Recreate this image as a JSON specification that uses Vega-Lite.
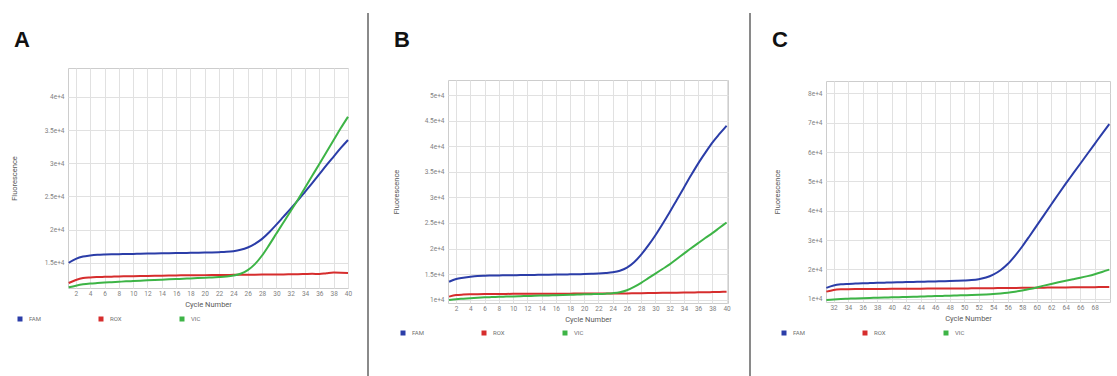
{
"$schema": "https://vega.github.io/schema/vega-lite/v6.json",
"background": "white",
"padding": {"left": 9, "top": 10, "right": 2, "bottom": 0},
"datasets": {
"A": [
{"cycle":1,"dye":"FAM","value":15000},{"cycle":2,"dye":"FAM","value":15600},{"cycle":3,"dye":"FAM","value":15950},{"cycle":4,"dye":"FAM","value":16100},{"cycle":5,"dye":"FAM","value":16200},{"cycle":6,"dye":"FAM","value":16250},{"cycle":7,"dye":"FAM","value":16280},{"cycle":8,"dye":"FAM","value":16300},{"cycle":9,"dye":"FAM","value":16320},{"cycle":10,"dye":"FAM","value":16340},{"cycle":11,"dye":"FAM","value":16360},{"cycle":12,"dye":"FAM","value":16380},{"cycle":13,"dye":"FAM","value":16400},{"cycle":14,"dye":"FAM","value":16420},{"cycle":15,"dye":"FAM","value":16440},{"cycle":16,"dye":"FAM","value":16460},{"cycle":17,"dye":"FAM","value":16480},{"cycle":18,"dye":"FAM","value":16500},{"cycle":19,"dye":"FAM","value":16520},{"cycle":20,"dye":"FAM","value":16540},{"cycle":21,"dye":"FAM","value":16560},{"cycle":22,"dye":"FAM","value":16600},{"cycle":23,"dye":"FAM","value":16650},{"cycle":24,"dye":"FAM","value":16750},{"cycle":25,"dye":"FAM","value":16950},{"cycle":26,"dye":"FAM","value":17300},{"cycle":27,"dye":"FAM","value":17850},{"cycle":28,"dye":"FAM","value":18600},{"cycle":29,"dye":"FAM","value":19600},{"cycle":30,"dye":"FAM","value":20750},{"cycle":31,"dye":"FAM","value":21950},{"cycle":32,"dye":"FAM","value":23150},{"cycle":33,"dye":"FAM","value":24400},{"cycle":34,"dye":"FAM","value":25700},{"cycle":35,"dye":"FAM","value":27000},{"cycle":36,"dye":"FAM","value":28350},{"cycle":37,"dye":"FAM","value":29700},{"cycle":38,"dye":"FAM","value":31000},{"cycle":39,"dye":"FAM","value":32300},{"cycle":40,"dye":"FAM","value":33500},
{"cycle":1,"dye":"ROX","value":11950},{"cycle":2,"dye":"ROX","value":12400},{"cycle":3,"dye":"ROX","value":12700},{"cycle":4,"dye":"ROX","value":12800},{"cycle":5,"dye":"ROX","value":12850},{"cycle":6,"dye":"ROX","value":12880},{"cycle":7,"dye":"ROX","value":12910},{"cycle":8,"dye":"ROX","value":12940},{"cycle":9,"dye":"ROX","value":12960},{"cycle":10,"dye":"ROX","value":12980},{"cycle":11,"dye":"ROX","value":13000},{"cycle":12,"dye":"ROX","value":13020},{"cycle":13,"dye":"ROX","value":13040},{"cycle":14,"dye":"ROX","value":13060},{"cycle":15,"dye":"ROX","value":13080},{"cycle":16,"dye":"ROX","value":13100},{"cycle":17,"dye":"ROX","value":13110},{"cycle":18,"dye":"ROX","value":13120},{"cycle":19,"dye":"ROX","value":13130},{"cycle":20,"dye":"ROX","value":13140},{"cycle":21,"dye":"ROX","value":13150},{"cycle":22,"dye":"ROX","value":13160},{"cycle":23,"dye":"ROX","value":13170},{"cycle":24,"dye":"ROX","value":13180},{"cycle":25,"dye":"ROX","value":13190},{"cycle":26,"dye":"ROX","value":13200},{"cycle":27,"dye":"ROX","value":13210},{"cycle":28,"dye":"ROX","value":13220},{"cycle":29,"dye":"ROX","value":13230},{"cycle":30,"dye":"ROX","value":13240},{"cycle":31,"dye":"ROX","value":13250},{"cycle":32,"dye":"ROX","value":13270},{"cycle":33,"dye":"ROX","value":13290},{"cycle":34,"dye":"ROX","value":13310},{"cycle":35,"dye":"ROX","value":13330},{"cycle":36,"dye":"ROX","value":13300},{"cycle":37,"dye":"ROX","value":13420},{"cycle":38,"dye":"ROX","value":13520},{"cycle":39,"dye":"ROX","value":13500},{"cycle":40,"dye":"ROX","value":13450},
{"cycle":1,"dye":"VIC","value":11300},{"cycle":2,"dye":"VIC","value":11550},{"cycle":3,"dye":"VIC","value":11750},{"cycle":4,"dye":"VIC","value":11870},{"cycle":5,"dye":"VIC","value":11950},{"cycle":6,"dye":"VIC","value":12020},{"cycle":7,"dye":"VIC","value":12080},{"cycle":8,"dye":"VIC","value":12140},{"cycle":9,"dye":"VIC","value":12200},{"cycle":10,"dye":"VIC","value":12250},{"cycle":11,"dye":"VIC","value":12300},{"cycle":12,"dye":"VIC","value":12350},{"cycle":13,"dye":"VIC","value":12400},{"cycle":14,"dye":"VIC","value":12450},{"cycle":15,"dye":"VIC","value":12500},{"cycle":16,"dye":"VIC","value":12550},{"cycle":17,"dye":"VIC","value":12600},{"cycle":18,"dye":"VIC","value":12650},{"cycle":19,"dye":"VIC","value":12700},{"cycle":20,"dye":"VIC","value":12750},{"cycle":21,"dye":"VIC","value":12800},{"cycle":22,"dye":"VIC","value":12860},{"cycle":23,"dye":"VIC","value":12940},{"cycle":24,"dye":"VIC","value":13080},{"cycle":25,"dye":"VIC","value":13350},{"cycle":26,"dye":"VIC","value":13900},{"cycle":27,"dye":"VIC","value":14800},{"cycle":28,"dye":"VIC","value":16100},{"cycle":29,"dye":"VIC","value":17700},{"cycle":30,"dye":"VIC","value":19400},{"cycle":31,"dye":"VIC","value":21100},{"cycle":32,"dye":"VIC","value":22800},{"cycle":33,"dye":"VIC","value":24500},{"cycle":34,"dye":"VIC","value":26300},{"cycle":35,"dye":"VIC","value":28100},{"cycle":36,"dye":"VIC","value":29900},{"cycle":37,"dye":"VIC","value":31700},{"cycle":38,"dye":"VIC","value":33500},{"cycle":39,"dye":"VIC","value":35300},{"cycle":40,"dye":"VIC","value":37000}
],
"B": [
{"cycle":1,"dye":"FAM","value":13500},{"cycle":2,"dye":"FAM","value":14050},{"cycle":3,"dye":"FAM","value":14300},{"cycle":4,"dye":"FAM","value":14500},{"cycle":5,"dye":"FAM","value":14650},{"cycle":6,"dye":"FAM","value":14700},{"cycle":7,"dye":"FAM","value":14720},{"cycle":8,"dye":"FAM","value":14740},{"cycle":9,"dye":"FAM","value":14760},{"cycle":10,"dye":"FAM","value":14780},{"cycle":11,"dye":"FAM","value":14800},{"cycle":12,"dye":"FAM","value":14820},{"cycle":13,"dye":"FAM","value":14840},{"cycle":14,"dye":"FAM","value":14860},{"cycle":15,"dye":"FAM","value":14880},{"cycle":16,"dye":"FAM","value":14900},{"cycle":17,"dye":"FAM","value":14920},{"cycle":18,"dye":"FAM","value":14950},{"cycle":19,"dye":"FAM","value":14980},{"cycle":20,"dye":"FAM","value":15010},{"cycle":21,"dye":"FAM","value":15050},{"cycle":22,"dye":"FAM","value":15100},{"cycle":23,"dye":"FAM","value":15200},{"cycle":24,"dye":"FAM","value":15350},{"cycle":25,"dye":"FAM","value":15650},{"cycle":26,"dye":"FAM","value":16250},{"cycle":27,"dye":"FAM","value":17300},{"cycle":28,"dye":"FAM","value":18800},{"cycle":29,"dye":"FAM","value":20600},{"cycle":30,"dye":"FAM","value":22600},{"cycle":31,"dye":"FAM","value":24800},{"cycle":32,"dye":"FAM","value":27100},{"cycle":33,"dye":"FAM","value":29500},{"cycle":34,"dye":"FAM","value":31900},{"cycle":35,"dye":"FAM","value":34300},{"cycle":36,"dye":"FAM","value":36600},{"cycle":37,"dye":"FAM","value":38700},{"cycle":38,"dye":"FAM","value":40700},{"cycle":39,"dye":"FAM","value":42400},{"cycle":40,"dye":"FAM","value":44000},
{"cycle":1,"dye":"ROX","value":10600},{"cycle":2,"dye":"ROX","value":10900},{"cycle":3,"dye":"ROX","value":11000},{"cycle":4,"dye":"ROX","value":11050},{"cycle":5,"dye":"ROX","value":11080},{"cycle":6,"dye":"ROX","value":11100},{"cycle":7,"dye":"ROX","value":11110},{"cycle":8,"dye":"ROX","value":11120},{"cycle":9,"dye":"ROX","value":11130},{"cycle":10,"dye":"ROX","value":11140},{"cycle":11,"dye":"ROX","value":11150},{"cycle":12,"dye":"ROX","value":11150},{"cycle":13,"dye":"ROX","value":11160},{"cycle":14,"dye":"ROX","value":11160},{"cycle":15,"dye":"ROX","value":11170},{"cycle":16,"dye":"ROX","value":11170},{"cycle":17,"dye":"ROX","value":11180},{"cycle":18,"dye":"ROX","value":11180},{"cycle":19,"dye":"ROX","value":11190},{"cycle":20,"dye":"ROX","value":11190},{"cycle":21,"dye":"ROX","value":11200},{"cycle":22,"dye":"ROX","value":11200},{"cycle":23,"dye":"ROX","value":11210},{"cycle":24,"dye":"ROX","value":11210},{"cycle":25,"dye":"ROX","value":11220},{"cycle":26,"dye":"ROX","value":11230},{"cycle":27,"dye":"ROX","value":11250},{"cycle":28,"dye":"ROX","value":11270},{"cycle":29,"dye":"ROX","value":11290},{"cycle":30,"dye":"ROX","value":11310},{"cycle":31,"dye":"ROX","value":11330},{"cycle":32,"dye":"ROX","value":11350},{"cycle":33,"dye":"ROX","value":11370},{"cycle":34,"dye":"ROX","value":11390},{"cycle":35,"dye":"ROX","value":11410},{"cycle":36,"dye":"ROX","value":11430},{"cycle":37,"dye":"ROX","value":11450},{"cycle":38,"dye":"ROX","value":11480},{"cycle":39,"dye":"ROX","value":11510},{"cycle":40,"dye":"ROX","value":11540},
{"cycle":1,"dye":"VIC","value":9950},{"cycle":2,"dye":"VIC","value":10100},{"cycle":3,"dye":"VIC","value":10200},{"cycle":4,"dye":"VIC","value":10300},{"cycle":5,"dye":"VIC","value":10380},{"cycle":6,"dye":"VIC","value":10450},{"cycle":7,"dye":"VIC","value":10500},{"cycle":8,"dye":"VIC","value":10550},{"cycle":9,"dye":"VIC","value":10600},{"cycle":10,"dye":"VIC","value":10640},{"cycle":11,"dye":"VIC","value":10680},{"cycle":12,"dye":"VIC","value":10720},{"cycle":13,"dye":"VIC","value":10760},{"cycle":14,"dye":"VIC","value":10800},{"cycle":15,"dye":"VIC","value":10840},{"cycle":16,"dye":"VIC","value":10880},{"cycle":17,"dye":"VIC","value":10920},{"cycle":18,"dye":"VIC","value":10960},{"cycle":19,"dye":"VIC","value":11000},{"cycle":20,"dye":"VIC","value":11040},{"cycle":21,"dye":"VIC","value":11080},{"cycle":22,"dye":"VIC","value":11120},{"cycle":23,"dye":"VIC","value":11180},{"cycle":24,"dye":"VIC","value":11270},{"cycle":25,"dye":"VIC","value":11450},{"cycle":26,"dye":"VIC","value":11850},{"cycle":27,"dye":"VIC","value":12500},{"cycle":28,"dye":"VIC","value":13300},{"cycle":29,"dye":"VIC","value":14200},{"cycle":30,"dye":"VIC","value":15100},{"cycle":31,"dye":"VIC","value":16000},{"cycle":32,"dye":"VIC","value":16900},{"cycle":33,"dye":"VIC","value":17950},{"cycle":34,"dye":"VIC","value":19000},{"cycle":35,"dye":"VIC","value":20050},{"cycle":36,"dye":"VIC","value":21050},{"cycle":37,"dye":"VIC","value":22050},{"cycle":38,"dye":"VIC","value":23000},{"cycle":39,"dye":"VIC","value":24050},{"cycle":40,"dye":"VIC","value":25100}
],
"C": [
{"cycle":31,"dye":"FAM","value":13700},{"cycle":32,"dye":"FAM","value":14500},{"cycle":33,"dye":"FAM","value":14900},{"cycle":34,"dye":"FAM","value":15050},{"cycle":35,"dye":"FAM","value":15150},{"cycle":36,"dye":"FAM","value":15250},{"cycle":37,"dye":"FAM","value":15320},{"cycle":38,"dye":"FAM","value":15400},{"cycle":39,"dye":"FAM","value":15470},{"cycle":40,"dye":"FAM","value":15540},{"cycle":41,"dye":"FAM","value":15600},{"cycle":42,"dye":"FAM","value":15660},{"cycle":43,"dye":"FAM","value":15720},{"cycle":44,"dye":"FAM","value":15780},{"cycle":45,"dye":"FAM","value":15840},{"cycle":46,"dye":"FAM","value":15900},{"cycle":47,"dye":"FAM","value":15960},{"cycle":48,"dye":"FAM","value":16020},{"cycle":49,"dye":"FAM","value":16100},{"cycle":50,"dye":"FAM","value":16200},{"cycle":51,"dye":"FAM","value":16350},{"cycle":52,"dye":"FAM","value":16650},{"cycle":53,"dye":"FAM","value":17200},{"cycle":54,"dye":"FAM","value":18200},{"cycle":55,"dye":"FAM","value":19700},{"cycle":56,"dye":"FAM","value":21800},{"cycle":57,"dye":"FAM","value":24600},{"cycle":58,"dye":"FAM","value":27800},{"cycle":59,"dye":"FAM","value":31300},{"cycle":60,"dye":"FAM","value":34900},{"cycle":61,"dye":"FAM","value":38500},{"cycle":62,"dye":"FAM","value":42100},{"cycle":63,"dye":"FAM","value":45700},{"cycle":64,"dye":"FAM","value":49200},{"cycle":65,"dye":"FAM","value":52600},{"cycle":66,"dye":"FAM","value":56000},{"cycle":67,"dye":"FAM","value":59400},{"cycle":68,"dye":"FAM","value":62800},{"cycle":69,"dye":"FAM","value":66200},{"cycle":70,"dye":"FAM","value":69500},
{"cycle":31,"dye":"ROX","value":12400},{"cycle":32,"dye":"ROX","value":13000},{"cycle":33,"dye":"ROX","value":13200},{"cycle":34,"dye":"ROX","value":13250},{"cycle":35,"dye":"ROX","value":13280},{"cycle":36,"dye":"ROX","value":13300},{"cycle":37,"dye":"ROX","value":13315},{"cycle":38,"dye":"ROX","value":13330},{"cycle":39,"dye":"ROX","value":13345},{"cycle":40,"dye":"ROX","value":13360},{"cycle":41,"dye":"ROX","value":13375},{"cycle":42,"dye":"ROX","value":13390},{"cycle":43,"dye":"ROX","value":13405},{"cycle":44,"dye":"ROX","value":13420},{"cycle":45,"dye":"ROX","value":13435},{"cycle":46,"dye":"ROX","value":13450},{"cycle":47,"dye":"ROX","value":13465},{"cycle":48,"dye":"ROX","value":13480},{"cycle":49,"dye":"ROX","value":13495},{"cycle":50,"dye":"ROX","value":13510},{"cycle":51,"dye":"ROX","value":13525},{"cycle":52,"dye":"ROX","value":13540},{"cycle":53,"dye":"ROX","value":13565},{"cycle":54,"dye":"ROX","value":13590},{"cycle":55,"dye":"ROX","value":13615},{"cycle":56,"dye":"ROX","value":13640},{"cycle":57,"dye":"ROX","value":13665},{"cycle":58,"dye":"ROX","value":13690},{"cycle":59,"dye":"ROX","value":13715},{"cycle":60,"dye":"ROX","value":13740},{"cycle":61,"dye":"ROX","value":13765},{"cycle":62,"dye":"ROX","value":13790},{"cycle":63,"dye":"ROX","value":13815},{"cycle":64,"dye":"ROX","value":13840},{"cycle":65,"dye":"ROX","value":13865},{"cycle":66,"dye":"ROX","value":13890},{"cycle":67,"dye":"ROX","value":13915},{"cycle":68,"dye":"ROX","value":13940},{"cycle":69,"dye":"ROX","value":13970},{"cycle":70,"dye":"ROX","value":14000},
{"cycle":31,"dye":"VIC","value":9550},{"cycle":32,"dye":"VIC","value":9750},{"cycle":33,"dye":"VIC","value":9900},{"cycle":34,"dye":"VIC","value":10000},{"cycle":35,"dye":"VIC","value":10100},{"cycle":36,"dye":"VIC","value":10180},{"cycle":37,"dye":"VIC","value":10250},{"cycle":38,"dye":"VIC","value":10320},{"cycle":39,"dye":"VIC","value":10390},{"cycle":40,"dye":"VIC","value":10460},{"cycle":41,"dye":"VIC","value":10530},{"cycle":42,"dye":"VIC","value":10600},{"cycle":43,"dye":"VIC","value":10670},{"cycle":44,"dye":"VIC","value":10740},{"cycle":45,"dye":"VIC","value":10810},{"cycle":46,"dye":"VIC","value":10880},{"cycle":47,"dye":"VIC","value":10950},{"cycle":48,"dye":"VIC","value":11020},{"cycle":49,"dye":"VIC","value":11100},{"cycle":50,"dye":"VIC","value":11180},{"cycle":51,"dye":"VIC","value":11260},{"cycle":52,"dye":"VIC","value":11350},{"cycle":53,"dye":"VIC","value":11460},{"cycle":54,"dye":"VIC","value":11600},{"cycle":55,"dye":"VIC","value":11800},{"cycle":56,"dye":"VIC","value":12050},{"cycle":57,"dye":"VIC","value":12400},{"cycle":58,"dye":"VIC","value":12820},{"cycle":59,"dye":"VIC","value":13300},{"cycle":60,"dye":"VIC","value":13850},{"cycle":61,"dye":"VIC","value":14450},{"cycle":62,"dye":"VIC","value":15030},{"cycle":63,"dye":"VIC","value":15580},{"cycle":64,"dye":"VIC","value":16100},{"cycle":65,"dye":"VIC","value":16600},{"cycle":66,"dye":"VIC","value":17120},{"cycle":67,"dye":"VIC","value":17700},{"cycle":68,"dye":"VIC","value":18350},{"cycle":69,"dye":"VIC","value":19100},{"cycle":70,"dye":"VIC","value":19900}
]
},
"columns": 3,
"spacing": {"row": 0, "column": -4},
"align": {"row": "none", "column": "each"},
"bounds": "full",
"resolve": {"scale": {"x": "independent", "y": "independent", "color": "independent"}, "legend": {"color": "independent"}},
"concat": [
{"width": 1, "height": 1, "data": {"values": []}, "mark": "point", "encoding": {}, "view": {"stroke": null}},
{"width": 1, "height": 1, "data": {"values": []}, "mark": "point", "encoding": {}, "view": {"stroke": null}},
{"width": 1, "height": 1, "data": {"values": []}, "mark": "point", "encoding": {}, "view": {"stroke": null}},
{
"width": 280, "height": 220,
"title": {"text": "A", "anchor": "start", "frame": "group", "dx": -54, "offset": -57, "baseline": "alphabetic", "fontSize": 22, "fontWeight": "bold", "font": "Liberation Sans", "color": "#111111"},
"layer": [
{"data": {"name": "A"}, "mark": {"type": "line", "strokeWidth": 2, "interpolate": "monotone"},
"encoding": {
"x": {"field": "cycle", "type": "quantitative", "scale": {"domain": [0.9, 40], "nice": false, "zero": false}, "axis": {"title": "Cycle Number", "tickCount": 100, "format": "d", "values": [2,4,6,8,10,12,14,16,18,20,22,24,26,28,30,32,34,36,38,40]}},
"y": {"field": "value", "type": "quantitative", "scale": {"domain": [11200, 44350], "nice": false, "zero": false}, "axis": {"title": "Fluorescence", "tickCount": 100, "values": [15000,20000,25000,30000,35000,40000], "labelExpr": "datum.value / 10000 + 'e+4'", "titleX": -50}},
"color": {"field": "dye", "type": "nominal", "scale": {"domain": ["FAM","ROX","VIC"], "range": ["#2b3da8","#d62d2d","#3db446"]}, "legend": {"title": null, "orient": "none", "legendX": -51, "legendY": 248, "direction": "horizontal"}}
}},
{"data": {"values": [{}]}, "mark": {"type": "rule", "color": "#8a8a8a", "strokeWidth": 2}, "encoding": {"x": {"datum": 42.7928}, "y": {"datum": 52637.5}, "y2": {"datum": -3868}}}
]
},
{
"width": 280, "height": 223,
"title": {"text": "B", "anchor": "start", "frame": "group", "dx": -54, "offset": -57, "baseline": "alphabetic", "fontSize": 22, "fontWeight": "bold", "font": "Liberation Sans", "color": "#111111"},
"layer": [
{"data": {"name": "B"}, "mark": {"type": "line", "strokeWidth": 2, "interpolate": "monotone"},
"encoding": {
"x": {"field": "cycle", "type": "quantitative", "scale": {"domain": [0.85, 40.2], "nice": false, "zero": false}, "axis": {"title": "Cycle Number", "tickCount": 100, "format": "d", "values": [2,4,6,8,10,12,14,16,18,20,22,24,26,28,30,32,34,36,38,40]}},
"y": {"field": "value", "type": "quantitative", "scale": {"domain": [9350, 52940], "nice": false, "zero": false}, "axis": {"title": "Fluorescence", "tickCount": 100, "values": [10000,15000,20000,25000,30000,35000,40000,45000,50000], "labelExpr": "datum.value / 10000 + 'e+4'", "titleX": -48}},
"color": {"field": "dye", "type": "nominal", "scale": {"domain": ["FAM","ROX","VIC"], "range": ["#2b3da8","#d62d2d","#3db446"]}, "legend": {"title": null, "orient": "none", "legendX": -48, "legendY": 250, "direction": "horizontal"}}
}},
{"data": {"values": [{}]}, "mark": {"type": "rule", "color": "#8a8a8a", "strokeWidth": 2}, "encoding": {"x": {"datum": -10.3928}, "y": {"datum": 66036.5}, "y2": {"datum": -8242}}},
{"data": {"values": [{}]}, "mark": {"type": "rule", "color": "#8a8a8a", "strokeWidth": 2}, "encoding": {"x": {"datum": 43.2921}, "y": {"datum": 66036.5}, "y2": {"datum": -8242}}}
]
},
{
"width": 284, "height": 221,
"title": {"text": "C", "anchor": "start", "frame": "group", "dx": -54, "offset": -57, "baseline": "alphabetic", "fontSize": 22, "fontWeight": "bold", "font": "Liberation Sans", "color": "#111111"},
"layer": [
{"data": {"name": "C"}, "mark": {"type": "line", "strokeWidth": 2, "interpolate": "monotone"},
"encoding": {
"x": {"field": "cycle", "type": "quantitative", "scale": {"domain": [30.95, 70.1], "nice": false, "zero": false}, "axis": {"title": "Cycle Number", "tickCount": 100, "format": "d", "labelDx": 5, "values": [32,34,36,38,40,42,44,46,48,50,52,54,56,58,60,62,64,66,68]}},
"y": {"field": "value", "type": "quantitative", "scale": {"domain": [8875, 84200], "nice": false, "zero": false}, "axis": {"title": "Fluorescence", "tickCount": 100, "values": [10000,20000,30000,40000,50000,60000,70000,80000], "labelExpr": "datum.value / 10000 + 'e+4'", "titleX": -45}},
"color": {"field": "dye", "type": "nominal", "scale": {"domain": ["FAM","ROX","VIC"], "range": ["#2b3da8","#d62d2d","#3db446"]}, "legend": {"title": null, "orient": "none", "legendX": -45, "legendY": 249, "direction": "horizontal"}}
}},
{"data": {"values": [{}]}, "mark": {"type": "rule", "color": "#8a8a8a", "strokeWidth": 2}, "encoding": {"x": {"datum": 20.4733}, "y": {"datum": 107376.9}, "y2": {"datum": -21800}}}
]
}
],
"config": {
"font": "Roboto",
"view": {"stroke": "#cdcdcd", "strokeWidth": 1},
"axis": {"ticks": false, "domain": false, "grid": true, "gridColor": "#e1e1e1", "labelFont": "Roboto", "labelFontSize": 6.5, "labelColor": "#808080", "titleFont": "Roboto", "titleFontSize": 7.5, "titleFontWeight": "normal", "titleColor": "#5a5a5a", "labelFlush": false, "labelOverlap": false},
"axisX": {"labelPadding": 2.5, "titlePadding": 3},
"axisY": {"labelPadding": 4},
"legend": {"labelFont": "Roboto", "labelFontSize": 6, "labelColor": "#707070", "symbolType": "square", "symbolSize": 4, "symbolStrokeWidth": 3, "labelOffset": 6, "columnPadding": 53, "gridAlign": "all"}
}
}
